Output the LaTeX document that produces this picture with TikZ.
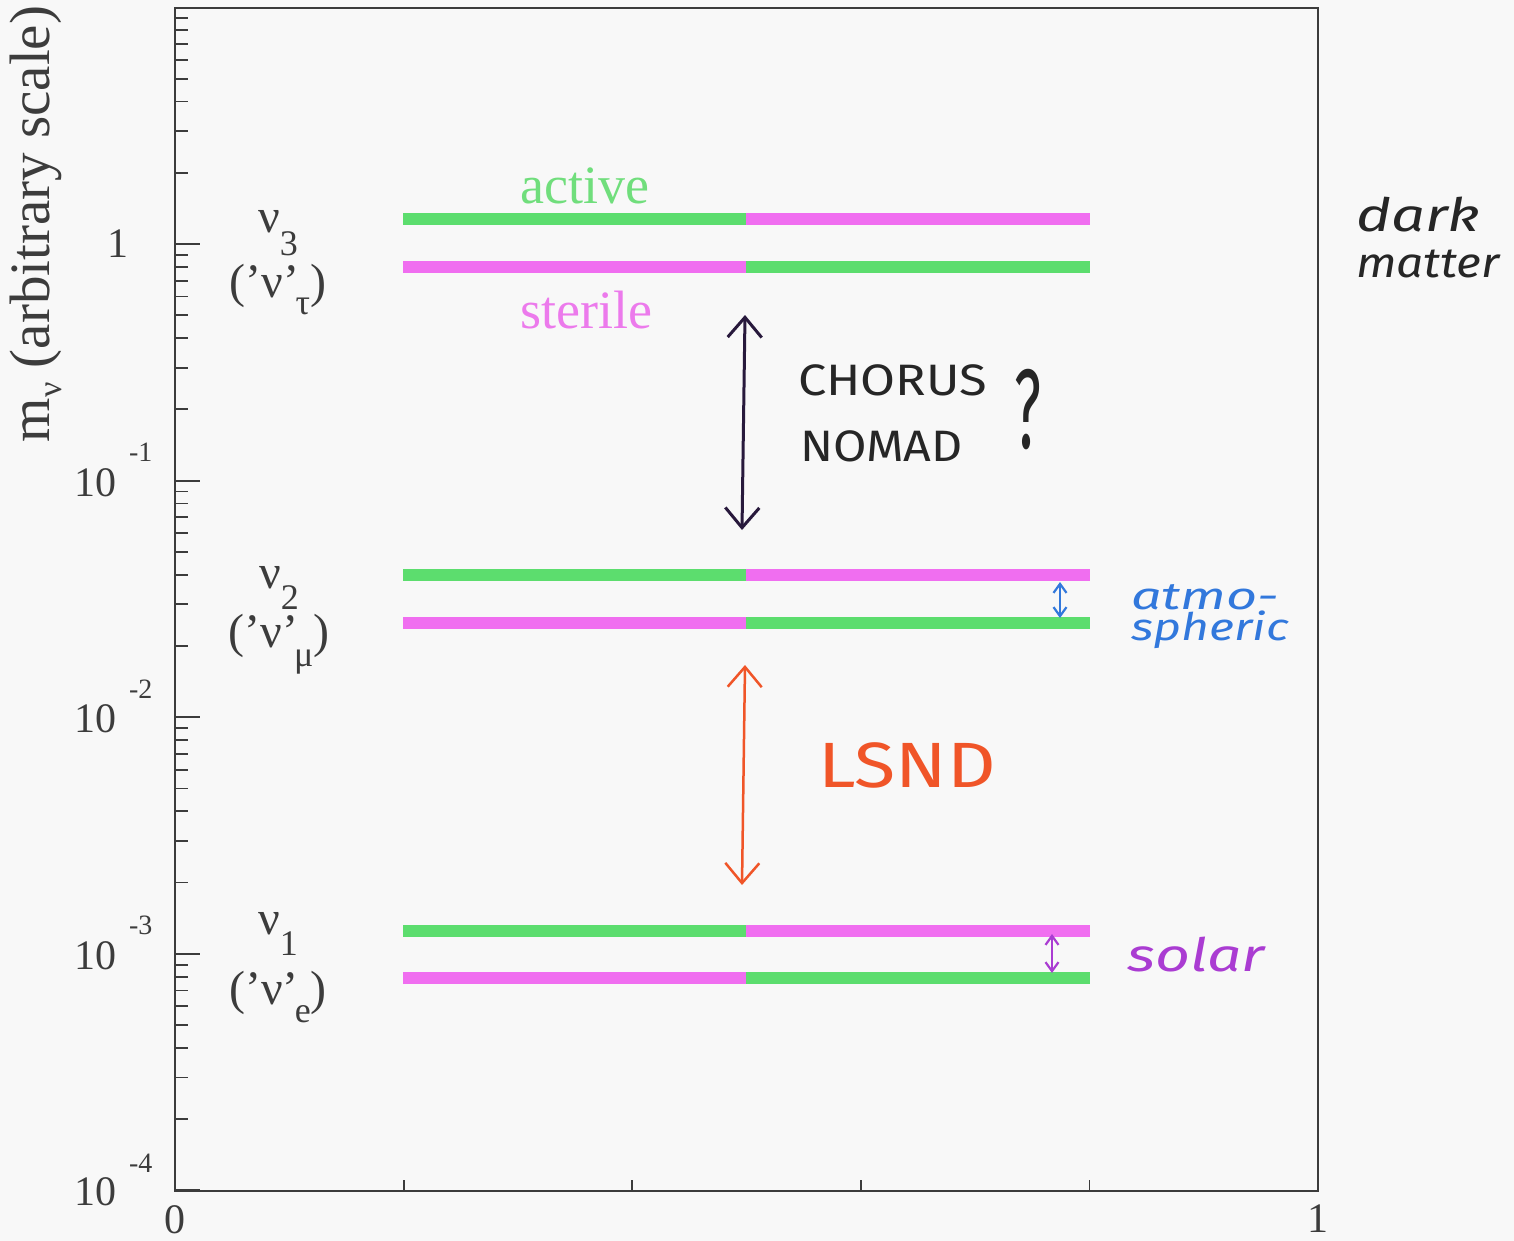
\documentclass[tikz,border=0pt]{standalone}
\usepackage{fontspec}
\usepackage{graphicx}
\setmainfont{Liberation Serif}
\newfontfamily\handfont{Fira Sans}
\usetikzlibrary{arrows.meta}
\definecolor{barG}{RGB}{92,221,110}
\definecolor{barM}{RGB}{240,110,240}
\definecolor{txtG}{RGB}{112,222,124}
\definecolor{txtM}{RGB}{236,122,236}
\definecolor{bgc}{RGB}{248,248,248}
\definecolor{axc}{RGB}{60,60,60}
\definecolor{chorusc}{RGB}{40,25,60}
\definecolor{lsndc}{RGB}{240,85,40}
\definecolor{atmoc}{RGB}{50,120,220}
\definecolor{solc}{RGB}{170,60,210}
\newcommand\fsz[1]{\fontsize{#1}{#1}\selectfont}
\begin{document}
\begin{tikzpicture}[x=1pt,y=-1pt,
  every node/.style={inner sep=0pt, outer sep=0pt},
  axis/.style={line width=2.5pt, draw=axc},
  majtick/.style={line width=2pt, draw=axc},
  mintick/.style={line width=1.8pt, draw=axc},
  barg/.style={line width=12pt, draw=barG},
  barm/.style={line width=12pt, draw=barM},
  ticklab/.style={font=\fsz{42}, text=axc},
  explab/.style={font=\fsz{28}, text=axc, anchor=west},
  nulab/.style={text=axc, align=center},
  hand/.style={font=\handfont\fsz{44}},
  bigarrow/.style={line width=3pt, {Straight Barb[length=20pt,width=34pt]}-{Straight Barb[length=20pt,width=34pt]}},
  smallarrow/.style={line width=2.2pt, {Straight Barb[length=9pt,width=13pt]}-{Straight Barb[length=9pt,width=13pt]}}
]
\useasboundingbox (0,0) rectangle (1514,1241);
\fill[bgc] (0,0) rectangle (1514,1241);

% frame
\draw[axis] (175,8) rectangle (1318,1191);

% left axis ticks
\foreach \e in {0,...,4}{
  \draw[majtick] (175,{244+236.6*\e}) -- ++(25,0);
  \foreach \k in {2,...,9}{
    \draw[mintick] (175,{244+236.6*\e-236.6*log10(\k)}) -- ++(13,0);
  }
}
% bottom axis ticks
\foreach \xx in {403.6,632.2,860.8,1089.4}{
  \draw[mintick] (\xx,1191) -- ++(0,-11);
}

% tick labels
\node[ticklab] (t0) at (118,244) {1};
\node[ticklab, anchor=east] (t1) at (116,483) {10};
\node[explab] (e1) at (129,452) {-1};
\node[ticklab, anchor=east] (t2) at (116,719) {10};
\node[explab] (e2) at (129,689) {-2};
\node[ticklab, anchor=east] (t3) at (116,956) {10};
\node[explab] (e3) at (129,925) {-3};
\node[ticklab, anchor=east] (t4) at (116,1192) {10};
\node[explab] (e4) at (129,1163) {-4};
\node[ticklab] (x0) at (175,1220) {0};
\node[ticklab] (x1) at (1318,1219) {1};

% y label
\node[rotate=90, font=\fsz{57}, text=axc] (ylab) at (36,224)
  {m\raisebox{-12pt}{\fsz{34}ν} (arbitrary scale)};

% bars
\draw[barg] (403,219) -- (746,219);
\draw[barm] (746,219) -- (1090,219);
\draw[barm] (403,267) -- (746,267);
\draw[barg] (746,267) -- (1090,267);
\draw[barg] (403,575) -- (746,575);
\draw[barm] (746,575) -- (1090,575);
\draw[barm] (403,623) -- (746,623);
\draw[barg] (746,623) -- (1090,623);
\draw[barg] (403,931) -- (746,931);
\draw[barm] (746,931) -- (1090,931);
\draw[barm] (403,978) -- (746,978);
\draw[barg] (746,978) -- (1090,978);

\node[font=\fsz{54}, text=txtG] (active) at (585,186) {active};
\node[font=\fsz{54}, text=txtM] (sterile) at (586,310) {sterile};

% neutrino labels
\node[nulab, font=\fontsize{48}{65}\selectfont] (nu3) at (278,263)
  {ν\raisebox{-23pt}{\fsz{36}3}\\(’ν’\kern-4pt\raisebox{-17pt}{\fsz{36}τ})};
\node[nulab, font=\fontsize{48}{59}\selectfont] (nu2) at (279,620)
  {ν\raisebox{-21pt}{\fsz{36}2}\\(’ν’\kern-4pt\raisebox{-19pt}{\fsz{36}μ})};
\node[nulab, font=\fontsize{48}{70}\selectfont] (nu1) at (278,968)
  {ν\raisebox{-21pt}{\fsz{36}1}\\(’ν’\kern-4pt\raisebox{-18pt}{\fsz{36}e})};

% dark matter
\node[font=\handfont\itshape\fontsize{44}{46}\selectfont, text=black!85, align=left, anchor=west] (dm) at (1356,238)
  {{\fsz{46}\scalebox{1.3}[1]{dark}}\\{\fsz{42}\scalebox{1.14}[1]{matter}}};

% CHORUS / NOMAD
\coordinate (chT) at (745,315);
\coordinate (chB) at (742,530);
\draw[bigarrow, draw=chorusc] (chT) -- (chB);
\node[hand, text=black!85, anchor=west] (chorus) at (798,380) {\scalebox{1.15}[1]{CHORUS}};
\node[hand, text=black!85, anchor=west] (nomad) at (800,446) {\scalebox{1.1}[1]{NOMAD}};
\node[font=\handfont\fsz{78}, text=black!85] (qm) at (1028,410) {\scalebox{0.75}[1.45]{?}};

% LSND
\coordinate (lsT) at (745,665);
\coordinate (lsB) at (742,885);
\draw[bigarrow, line width=2.5pt, draw=lsndc] (lsT) -- (lsB);
\node[font=\handfont\fsz{64}, text=lsndc, anchor=west] (lsnd) at (818,765) {\scalebox{1.18}[1]{LSND}};

% atmospheric
\coordinate (atT) at (1060,582);
\coordinate (atB) at (1060,618);
\draw[smallarrow, draw=atmoc] (atT) -- (atB);
\node[font=\handfont\itshape\fontsize{38}{31}\selectfont, text=atmoc, align=left, anchor=west] (atmo) at (1131,617)
  {\scalebox{1.42}[1]{atmo-}\\\scalebox{1.27}[1]{spheric}};

% solar
\coordinate (soT) at (1052,934);
\coordinate (soB) at (1052,973);
\draw[smallarrow, draw=solc] (soT) -- (soB);
\node[font=\handfont\itshape\fsz{46}, text=solc, anchor=west] (solar) at (1127,955) {\scalebox{1.32}[1]{solar}};
\end{tikzpicture}
\end{document}
